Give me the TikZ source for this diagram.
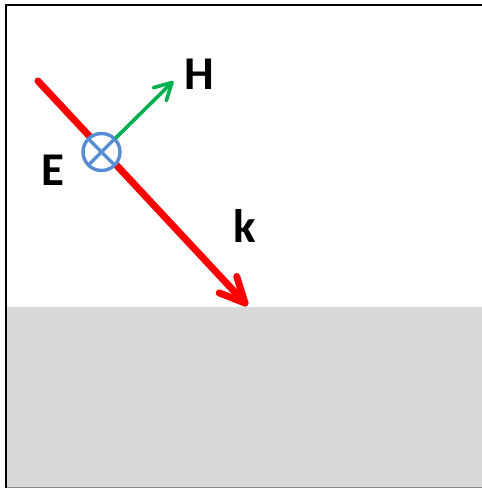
\documentclass[tikz,border=0pt]{standalone}
\usepackage{fontspec}
\setmainfont{Carlito}
\definecolor{ground}{RGB}{217,217,217}
\definecolor{eblue}{RGB}{86,141,212}
\definecolor{hgreen}{RGB}{0,176,80}
\definecolor{kred}{RGB}{255,0,0}
\begin{document}
\begin{tikzpicture}[x=1pt,y=-1pt,
  lbl/.style={inner sep=0pt,font=\fontsize{47}{56}\selectfont\bfseries},
  kline/.style={draw=kred,line width=7pt,line cap=round,line join=round},
  hline/.style={draw=hgreen,line width=3.6pt,line cap=round,line join=round},
  eline/.style={draw=eblue,line width=3.4pt}]
\useasboundingbox (0,0) rectangle (482,488);
% medium and frame
\fill[ground] (7,307) rectangle (484,490);
\draw[black!45,line width=1pt] (6,487.6) -- (484,487.6);
\draw[black,line width=1.6pt] (6,490) -- (6,5) -- (484,5);
% wave vector k
\coordinate (ks) at (38,81);
\coordinate (kt) at (245,303);
\coordinate (kb1) at (219.2,292.9);
\coordinate (kb2) at (236.7,276.5);
\draw[kline] (ks) -- (kt);
\draw[kline] (kb1) -- (kt) -- (kb2);
% E field into the page
\node[circle,eline,fill=white,minimum size=37pt,inner sep=0pt] (E0) at (101.5,152) {};
\draw[eline,shorten <=3.2pt,shorten >=3.2pt] (E0.north west) -- (E0.south east);
\draw[eline,shorten <=3.2pt,shorten >=3.2pt] (E0.north east) -- (E0.south west);
% H field
\coordinate (ht) at (172,82.5);
\coordinate (hb1) at (153.3,87.7);
\coordinate (hb2) at (166.3,100.7);
\draw[hline] (E0) -- (ht);
\draw[hline] (hb1) -- (ht) -- (hb2);
% labels
\node[lbl] (H) at (199,74) {H};
\node[lbl] (E) at (52.5,170) {E};
\node[lbl] (k) at (245,226.5) {k};
\end{tikzpicture}
\end{document}
